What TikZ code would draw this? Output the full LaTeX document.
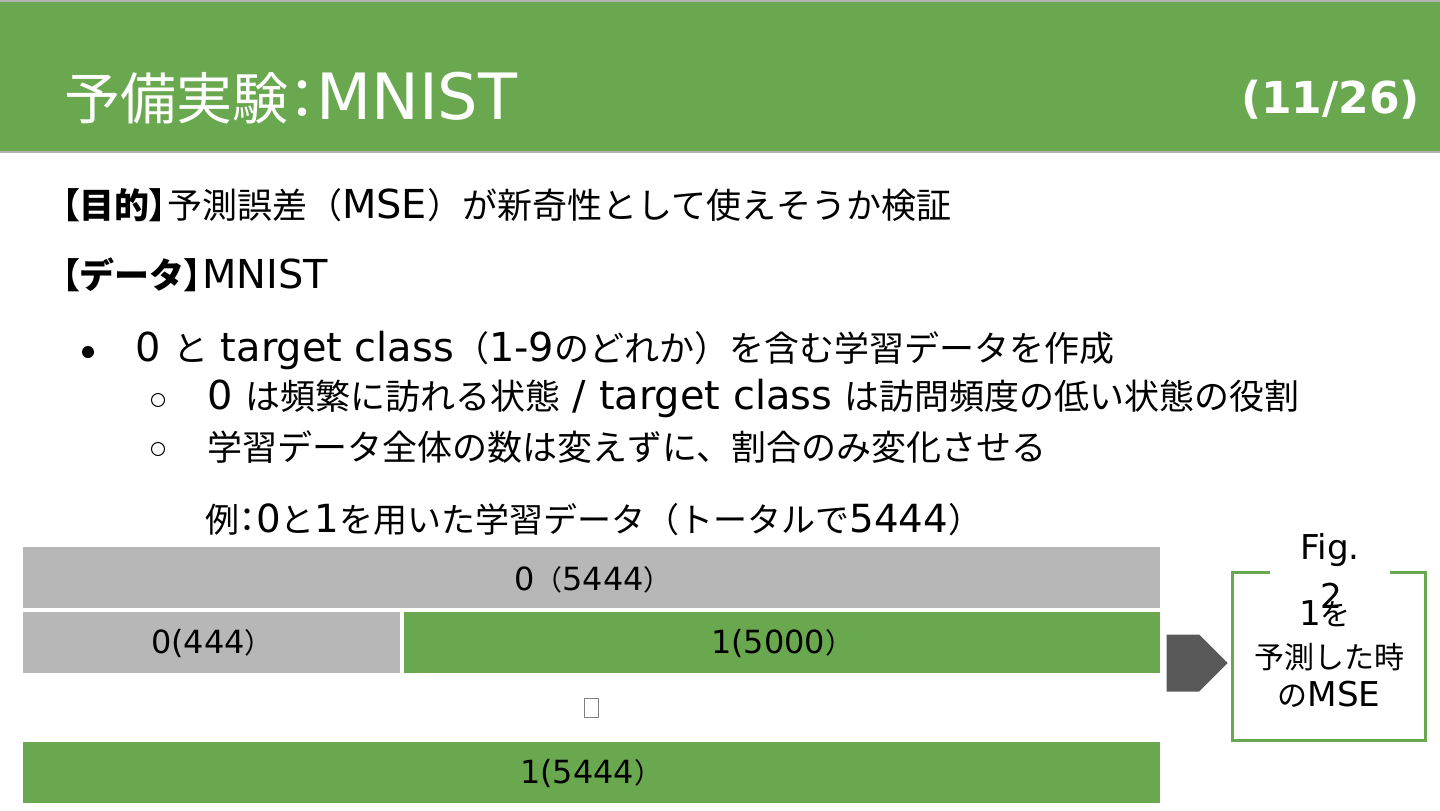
\documentclass[tikz,border=0pt]{standalone}
\usepackage{fontspec}
\setmainfont{Noto Sans CJK JP}
\newfontfamily\lat{DejaVu Sans}[Scale=1.14]
\newfontfamily\numfont{DejaVu Sans}
\newcommand\narrowp[1]{{\addfontfeature{RawFeature=+palt}#1}}
\usepackage{xcolor}
\usepackage{tikz}
\usetikzlibrary{shapes.arrows}

\definecolor{slidegreen}{HTML}{6AA84F}
\definecolor{bargray}{HTML}{B7B7B7}
\definecolor{arrowgray}{HTML}{595959}

\tikzset{
  bodytext/.style={anchor=west,inner sep=0pt,font=\fontsize{35bp}{40bp}\selectfont},
  barlabel/.style={inner sep=0pt,font=\fontsize{28bp}{34bp}\selectfont},
  figtext/.style={inner sep=0pt,font=\fontsize{30bp}{36bp}\selectfont},
}

\begin{document}
\begin{tikzpicture}[x=1bp,y=-1bp]
\useasboundingbox (0,0) rectangle (1440,810);
% header
\fill[slidegreen] (0,0) rectangle (1440,152);
\draw[gray!60,line width=1.5bp] (0,1) -- (1440,1);
\draw[gray!60,line width=1.5bp] (0,152) -- (1440,152);
\node[anchor=west,inner sep=0pt,white,font=\fontsize{56bp}{64bp}\selectfont] (title) at (64,98) {予備実験\narrowp{：}{\lat MNIST}};
\node[anchor=east,inner sep=0pt,white,font=\numfont\bfseries\fontsize{44bp}{50bp}\selectfont] (page) at (1420,100) {(11/26)};

% body
\node[bodytext] (goal) at (62,205) {{\bfseries\narrowp{【}目的\narrowp{】}}予測誤差（{\lat MSE}）が新奇性として使えそうか検証};
\node[bodytext] (data) at (62,275) {{\bfseries\narrowp{【}データ\narrowp{】}}{\lat MNIST}};
\fill (88,352) circle (6bp);
\node[bodytext] (item) at (135,350) {{\lat 0 }と{\lat\ target class}（{\lat 1-9}のどれか）を含む学習データを作成};
\draw[line width=1bp] (158,400) circle (6.5bp);
\node[bodytext] (subA) at (207,398) {{\lat 0 }は頻繁に訪れる状態{\lat\ / target class }は訪問頻度の低い状態の役割};
\draw[line width=1bp] (158,449) circle (6.5bp);
\node[bodytext] (subB) at (207,447) {学習データ全体の数は変えずに、割合のみ変化させる};
\node[bodytext,font=\fontsize{34bp}{40bp}\selectfont] (ex) at (205,520) {例\narrowp{：}{\lat 0}と{\lat 1}を用いた学習データ（トータルで{\lat 5444}）};

% bars
\fill[bargray] (23,547) rectangle (1160,608);
\node[barlabel] (zeroall) at (593,580) {{\lat 0}（{\lat 5444}）};
\fill[bargray] (23,612) rectangle (400,673);
\node[barlabel] (zerosome) at (212,643) {{\lat 0(444}）};
\fill[slidegreen] (404,612) rectangle (1160,673);
\node[barlabel] (onesome) at (782,643) {{\lat 1(5000}）};
\node[draw=gray,line width=0.8bp,minimum width=14bp,minimum height=19bp,inner sep=0pt] (tofu) at (591,708) {};
\fill[slidegreen] (23,742) rectangle (1160,803);
\node[barlabel] (oneall) at (591,773) {{\lat 1(5444}）};

% arrow and result box
\node[single arrow,fill=arrowgray,minimum height=61bp,minimum width=57bp,single arrow head extend=0bp,
      inner sep=0pt,single arrow tip angle=90,anchor=tip] (arr) at (1228,663) {\phantom{\rule{28bp}{28bp}}};
\draw[slidegreen,line width=3bp] (1270,572) -- (1232,572) -- (1232,740) -- (1425,740) -- (1425,572) -- (1390,572);
\node[figtext] (fig) at (1330,550) {{\lat Fig.}};
\node[figtext] (two) at (1331,596) {{\lat 2}};
\node[figtext] (oneof) at (1325,614) {{\lat 1}を};
\node[figtext] (pred) at (1329,657) {予測した時};
\node[figtext] (mse) at (1329,694) {の{\lat MSE}};
\end{tikzpicture}
\end{document}
